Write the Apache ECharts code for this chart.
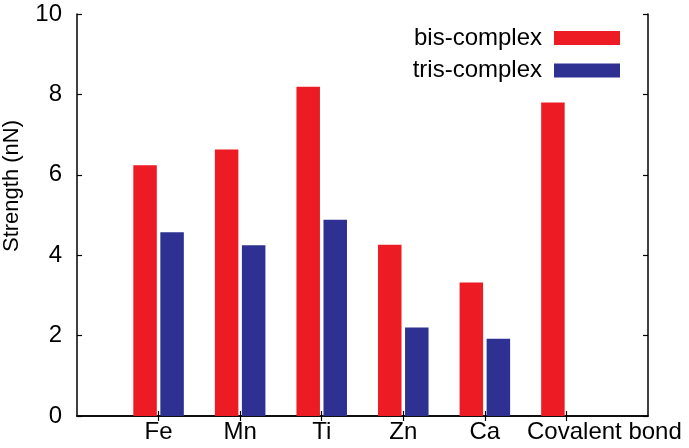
<!DOCTYPE html>
<html>
<head>
<meta charset="utf-8">
<script src="https://cdn.jsdelivr.net/npm/echarts@6/dist/echarts.min.js"></script>
<style>
  html, body { margin: 0; padding: 0; background: #fff; }
  #chart { width: 689px; height: 448px; }
</style>
</head>
<body>
<div id="chart"></div>
<script>
// categories, padded with empty slots so ticks sit at 1..6 of 0..7
var categories = ['', 'Fe', 'Mn', 'Ti', 'Zn', 'Ca', 'Covalent bond', ''];
var bisComplex = [null, 6.24, 6.63, 8.19, 4.26, 3.32, 7.80, null];
var trisComplex = [null, 4.57, 4.25, 4.88, 2.20, 1.92, null, null];
var yTicks = [0, 2, 4, 6, 8, 10];

var myChart = echarts.init(document.getElementById('chart'));
var font = 'Liberation Sans, Arial, Helvetica, sans-serif';
var axisLine = { show: true, lineStyle: { color: '#000', width: 1.5 } };
var tick = { show: true, inside: true, length: 5, lineStyle: { color: '#000', width: 1.2 } };
// no ticks on the empty end slots
var xTick = {
    show: true, inside: true, length: 5, lineStyle: { color: '#000', width: 1.2 },
    interval: function(index) { return index > 0 && index < categories.length - 1; }
};

// the last label sits right of its tick in the original
var xData = categories.map(function(c, i) {
    if (c === 'Covalent bond') {
        return { value: c, textStyle: { padding: [0, 0, 0, 76] } };
    }
    return c;
});

var option = {
    animation: false,
    grid: { left: 77, right: 41, top: 14, bottom: 32, outerBoundsMode: 'none', containLabel: false },
    legend: {
        right: 69,
        top: 26,
        padding: 0,
        orient: 'vertical',
        align: 'right',
        icon: 'rect',
        itemWidth: 66,
        itemHeight: 14,
        itemGap: 8.5,
        textStyle: { fontFamily: font, fontSize: 24, color: '#000', padding: [0, 7, 0, 0] },
        data: ['bis-complex', 'tris-complex']
    },
    xAxis: [{
        type: 'category',
        data: xData,
        boundaryGap: false,
        axisLine: axisLine,
        axisTick: xTick,
        axisLabel: { fontFamily: font, fontSize: 24, color: '#000', margin: 4, interval: 0, hideOverlap: false },
        splitLine: { show: false }
    }, {
        type: 'category',
        data: categories,
        position: 'top',
        boundaryGap: false,
        axisLine: axisLine,
        axisTick: xTick,
        axisLabel: { show: false },
        splitLine: { show: false }
    }],
    yAxis: [{
        type: 'value',
        min: yTicks[0],
        max: yTicks[yTicks.length - 1],
        interval: 2,
        name: 'Strength (nN)',
        nameLocation: 'middle',
        nameGap: 54,
        nameTextStyle: { fontFamily: font, fontSize: 22, color: '#000', padding: [0, 0, 0, 58] },
        axisLine: axisLine,
        axisTick: tick,
        axisLabel: { fontFamily: font, fontSize: 24, color: '#000', margin: 15 },
        splitLine: { show: false }
    }, {
        type: 'value',
        position: 'right',
        min: yTicks[0],
        max: yTicks[yTicks.length - 1],
        interval: 2,
        axisLine: axisLine,
        axisTick: tick,
        axisLabel: { show: false },
        splitLine: { show: false }
    }],
    series: [{
        name: 'bis-complex',
        type: 'bar',
        data: bisComplex,
        barWidth: 23.5,
        barGap: '15%',
        itemStyle: { color: '#ED1C24' }
    }, {
        name: 'tris-complex',
        type: 'bar',
        data: trisComplex,
        barWidth: 23.5,
        barGap: '15%',
        itemStyle: { color: '#2E3192' }
    }]
};
myChart.setOption(option);
</script>
</body>
</html>
